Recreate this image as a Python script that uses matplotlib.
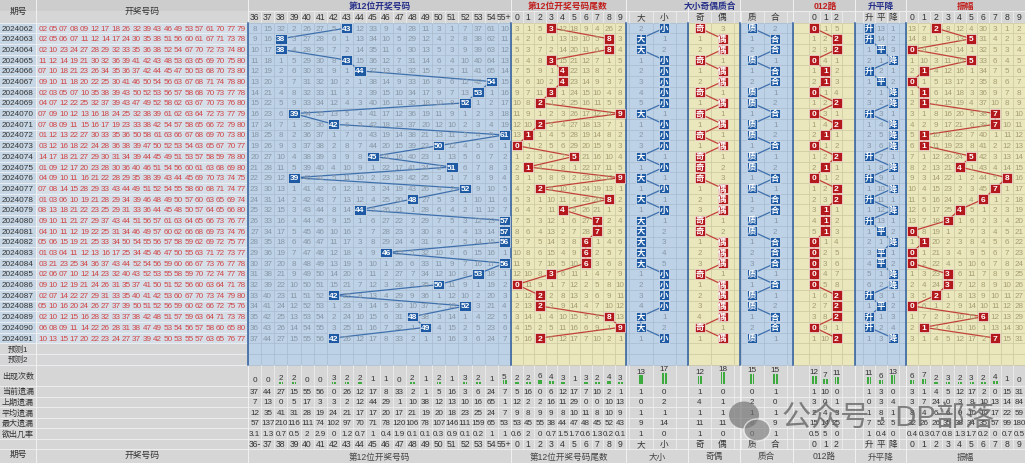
import matplotlib
matplotlib.use('Agg')
import matplotlib.pyplot as plt
from matplotlib.patches import Rectangle, Ellipse

plt.rcParams['font.family'] = ['Liberation Sans', 'Noto Sans CJK SC']

# ---- data ----
periods = ['2024062', '2024063', '2024064', '2024065', '2024066', '2024067',
           '2024068', '2024069', '2024070', '2024071', '2024072', '2024073',
           '2024074', '2024075', '2024076', '2024077', '2024078', '2024079',
           '2024080', '2024081', '2024082', '2024083', '2024084', '2024085',
           '2024086', '2024087', '2024088', '2024089', '2024090', '2024091']

draws = [
    "02 05 07 08 09 12 17 18 26 32 39 43 46 49 53 57 61 70 77 79",
    "02 05 06 07 11 12 14 17 24 30 35 38 51 56 60 61 67 71 73 78",
    "02 10 23 24 27 28 29 32 33 35 36 38 52 54 67 70 72 73 74 80",
    "11 12 14 19 21 30 32 36 39 41 42 43 48 53 63 65 69 70 75 80",
    "07 10 18 21 23 26 34 35 36 37 42 44 45 47 50 53 68 70 73 80",
    "09 10 11 18 20 22 25 30 41 46 50 54 56 63 67 68 71 74 78 80",
    "02 03 05 07 10 35 38 39 43 50 52 53 56 57 58 68 70 73 77 78",
    "04 07 12 22 25 32 37 39 43 47 49 52 58 62 63 67 70 73 76 80",
    "07 09 10 12 13 16 18 24 25 32 38 39 61 62 63 64 72 73 77 79",
    "07 08 09 11 15 16 17 19 23 33 38 42 54 57 58 65 66 72 79 80",
    "01 12 13 22 27 30 33 35 36 50 58 61 63 66 67 68 69 70 73 80",
    "03 12 16 18 22 24 28 36 38 39 47 50 52 53 54 63 65 67 70 77",
    "14 17 18 21 27 29 30 31 34 39 44 45 49 51 53 57 58 59 78 80",
    "01 09 12 17 20 23 28 30 36 40 46 51 54 56 60 61 63 68 69 80",
    "04 09 10 11 16 21 22 28 29 35 38 39 43 44 45 69 70 73 74 75",
    "07 08 14 15 28 29 33 43 44 49 51 52 54 55 58 60 68 71 74 77",
    "01 03 06 10 19 21 28 29 34 39 46 48 49 50 57 60 63 65 69 74",
    "08 13 18 21 22 23 25 29 31 33 36 44 45 48 50 57 64 65 66 80",
    "09 10 11 21 27 29 37 43 44 51 56 57 61 63 64 65 66 73 76 77",
    "04 10 11 12 19 22 25 31 34 46 49 57 60 62 66 68 69 73 74 76",
    "05 06 15 19 21 25 33 34 50 54 55 56 57 58 59 62 69 72 75 77",
    "01 03 04 11 12 13 16 17 25 34 45 46 47 50 55 63 71 72 73 77",
    "03 21 23 25 34 36 37 43 44 52 54 56 59 60 66 67 73 76 77 78",
    "02 06 07 10 12 14 23 32 40 43 52 53 55 58 59 70 72 74 77 78",
    "09 10 12 19 21 24 26 31 35 37 41 50 51 52 56 60 63 64 71 78",
    "02 07 14 22 27 29 31 33 35 40 41 42 53 60 67 70 73 74 79 80",
    "05 10 16 20 24 26 27 37 39 50 51 52 56 59 60 62 66 72 75 76",
    "02 10 12 15 16 28 32 33 37 38 42 48 51 57 59 63 64 71 73 78",
    "06 08 09 11 14 22 26 28 31 38 47 49 53 54 56 57 58 60 65 80",
    "10 13 15 17 20 22 23 24 27 37 39 42 50 53 55 57 63 65 76 77",
]

# 12th number of every draw
pos12 = [43, 38, 38, 43, 44, 54, 53, 52, 39, 42, 61, 50, 45, 51, 39,
         52, 48, 44, 57, 57, 56, 46, 56, 53, 50, 42, 52, 48, 49, 42]

# omission values shown on the first row (2024062)
first_pos = [8, 15, 32, 2, 26, 27, 5, 0, 12, 33, 9, 4, 28, 11, 3, 1, 7, 37, 61, 10]
first_tail = [3, 1, 5, 0, 12, 18, 9, 4, 26, 2]
first_dx = [2, 0]
first_jo = [0, 3]
first_zh = [0, 2]
first_012 = [0, 1, 5]
first_spj = [0, 13, 1]
first_amp = [13, 7, 0, 8, 12, 4, 30, 3, 1, 2]
first_amp_value = 2

pos_labels = ['36', '37', '38', '39', '40', '41', '42', '43', '44', '45', '46',
              '47', '48', '49', '50', '51', '52', '53', '54', '55+']
pos_labels_bot = ['36-'] + pos_labels[1:]
digits = ['0', '1', '2', '3', '4', '5', '6', '7', '8', '9']

# stats: count, current, last, average, max, probability
stats_pos = [[0, 0, 2, 2, 0, 0, 3, 2, 2, 1, 1, 0, 2, 1, 2, 1, 3, 2, 1, 5],
             [37, 44, 27, 15, 55, 56, 0, 26, 12, 17, 8, 33, 2, 1, 5, 16, 3, 6, 24, 7],
             [7, 13, 0, 5, 17, 3, 3, 2, 12, 44, 29, 1, 10, 38, 12, 13, 10, 16, 65, 1],
             [12, 35, 41, 31, 28, 19, 24, 21, 17, 17, 20, 17, 21, 19, 20, 18, 23, 25, 24, 7],
             [57, 137, 210, 116, 111, 74, 102, 97, 70, 71, 78, 120, 106, 78, 107, 146, 111, 159, 65, 53],
             ['3.1', '1.3', '0.7', '0.5', '2', '2.9', '0', '1.2', '0.7', '1', '0.4',
              '1.9', '0.1', '0.1', '0.3', '0.9', '0.1', '0.2', '1', '1']]
stats_tail = [[2, 2, 6, 4, 3, 1, 3, 2, 4, 3],
              [5, 16, 0, 6, 12, 17, 7, 10, 2, 1],
              [12, 2, 2, 16, 11, 29, 0, 0, 10, 13],
              [9, 8, 9, 9, 8, 10, 11, 8, 10, 9],
              [53, 45, 55, 38, 44, 47, 48, 45, 52, 43],
              ['0.6', '2', '0', '0.7', '1.5', '1.7', '0.6', '1.3', '0.2', '0.1']]
stats_dx = [[13, 17], [1, 0], [0, 2], [1, 1], [9, 14], ['1', '0']]
stats_jo = [[12, 18], [1, 0], [4, 1], [1, 1], [11, 11], ['1', '0']]
stats_zh = [[15, 15], [0, 1], [2, 0], [1, 1], [8, 9], ['0', '1']]
stats_012 = [[12, 7, 11], [1, 10, 0], [3, 0, 1], [2, 4, 3], [15, 14, 25], ['0.5', '5', '0']]
stats_spj = [[11, 6, 13], [1, 3, 0], [0, 3, 4], [1, 8, 1], [7, 52, 5], ['1', '0.4', '0']]
stats_amp = [[6, 7, 2, 3, 2, 3, 2, 4, 1, 0],
             [3, 1, 4, 5, 12, 17, 2, 0, 15, 31],
             [3, 7, 24, 0, 3, 8, 10, 13, 14, 84],
             [8, 4, 6, 6, 9, 10, 10, 17, 22, 59],
             [32, 26, 26, 35, 38, 34, 35, 57, 99, 180],
             ['0.4', '0.3', '0.7', '0.8', '1.3', '1.7', '0.2', '0', '0.7', '0.5']]
stat_names = ['出现次数', '当前遗漏', '上期遗漏', '平均遗漏', '最大遗漏', '欲出几率']

# ---- derived hits ----
tails = [n % 10 for n in pos12]
hit_pos = [0 if n <= 36 else (19 if n >= 55 else n - 36) for n in pos12]
hit_dx = [0 if t >= 5 else 1 for t in tails]
hit_jo = [0 if t % 2 else 1 for t in tails]
hit_zh = [0 if t in (1, 2, 3, 5, 7) else 1 for t in tails]
hit_012 = [t % 3 for t in tails]
hit_spj = [0]
amps = [first_amp_value]
for i in range(1, len(tails)):
    d = tails[i] - tails[i - 1]
    hit_spj.append(0 if d > 0 else (1 if d == 0 else 2))
    amps.append(abs(d))


def omissions(first, hits):
    out = [list(first)]
    for h in hits[1:]:
        prev = out[-1]
        out.append([0 if c == h else prev[c] + 1 for c in range(len(first))])
    return out


# ---- layout (pixels) ----
W, H = 1025, 464
HEAD1, HEAD2 = 12.0, 23.7
RH = 10.69
NDATA = len(periods)
DATA_BOT = HEAD2 + NDATA * RH
PRED_BOT = DATA_BOT + 2 * RH
CNT_BOT = 387.0
SRH = 10.5
STAT_BOT = CNT_BOT + 5 * SRH
LAB_BOT = STAT_BOT + 10.5

BLUE_BG, YEL_BG = '#bdd2e6', '#ebe7bd'
BLUE_HIT, RED_HIT = '#1d5aa3', '#b3191c'
BLUE_LN, RED_LN = '#3f70ad', '#c2423a'
BLUE_TXT, YEL_TXT = '#8796a6', '#a69d72'
DIV = '#2d5d9e'


def edges_even(x0, w, n):
    return [x0 + w * k for k in range(n + 1)]


sections = [
    dict(title='第12位开奖号码', tcolor='#27318a', bot='第12位开奖号码', span=(248, 511),
         edges=edges_even(248, 263 / 20, 20), bg=BLUE_BG, kind='b',
         first=first_pos, hits=hit_pos, lab=[str(n) for n in pos12],
         top=pos_labels, bottom=pos_labels_bot, stats=stats_pos, bw=11.5),
    dict(title='第12位开奖号码尾数', tcolor='#c0201e', bot='第12位开奖号码尾数', span=(511, 626),
         edges=edges_even(511, 11.5, 10), bg=YEL_BG, kind='r',
         first=first_tail, hits=tails, lab=[str(t) for t in tails],
         top=digits, bottom=digits, stats=stats_tail, bw=10),
    dict(title='大小奇偶质合', tcolor='#27318a', bot='大小', span=(626, 688), edges=[629, 652.5, 676],
         bg=BLUE_BG, kind='b',
         first=first_dx, hits=hit_dx, lab=[['大', '小'][h] for h in hit_dx],
         top=['大', '小'], bottom=['大', '小'], stats=stats_dx, bw=10),
    dict(title=None, bot='奇偶', span=(688, 740), edges=[688, 711, 734], bg=YEL_BG, kind='r',
         first=first_jo, hits=hit_jo, lab=[['奇', '偶'][h] for h in hit_jo],
         top=['奇', '偶'], bottom=['奇', '偶'], stats=stats_jo, bw=10),
    dict(title=None, bot='质合', span=(740, 793), edges=[740.5, 763.5, 787], bg=BLUE_BG, kind='b',
         first=first_zh, hits=hit_zh, lab=[['质', '合'][h] for h in hit_zh],
         top=['质', '合'], bottom=['质', '合'], stats=stats_zh, bw=10),
    dict(title='012路', tcolor='#c0201e', bot='012路', span=(793, 855),
         edges=[808.5, 819.7, 830.9, 842.1], bg=YEL_BG, kind='r',
         first=first_012, hits=hit_012, lab=[str(h) for h in hit_012],
         top=['0', '1', '2'], bottom=['0', '1', '2'], stats=stats_012, bw=10),
    dict(title='升平降', tcolor='#27318a', bot='升平降', span=(855, 906),
         edges=[863, 875, 887, 899], bg=BLUE_BG, kind='b',
         first=first_spj, hits=hit_spj, lab=[['升', '平', '降'][h] for h in hit_spj],
         top=['升', '平', '降'], bottom=['升', '平', '降'], stats=stats_spj, bw=10),
    dict(title='振幅', tcolor='#c0201e', bot='振幅', span=(906, 1025),
         edges=edges_even(906, 11.9, 10), bg=YEL_BG, kind='r',
         first=first_amp, hits=amps, lab=[str(a) for a in amps],
         top=digits, bottom=digits, stats=stats_amp, bw=10),
]
title_x = [380, 568, 710, 825, 881, 966]

fig = plt.figure(figsize=(W / 100, H / 100), dpi=100)
ax = fig.add_axes([0, 0, 1, 1])
ax.set_xlim(0, W)
ax.set_ylim(H, 0)
ax.axis('off')


def rect(x0, y0, x1, y1, fc, z=0, **kw):
    ax.add_patch(Rectangle((x0, y0), x1 - x0, y1 - y0, facecolor=fc, edgecolor='none', zorder=z, **kw))


def txt(x, y, s, size=5.8, color='#333333', z=5, **kw):
    ax.text(x, y, s, fontsize=size, color=color, ha='center', va='center', zorder=z, **kw)


# backgrounds
rect(0, 0, W, H, '#d6d6d6')
rect(0, 0, W, HEAD1, '#cdcdcd')
rect(0, HEAD2, 36, DATA_BOT, '#c7d6e4')
rect(36, HEAD2, 248, DATA_BOT, '#d6dee8')
for s in sections:
    rect(s['span'][0], HEAD2, s['span'][1], PRED_BOT, s['bg'])

# horizontal grid
for i in range(NDATA + 3):
    y = HEAD2 + i * RH
    ax.plot([0, 248], [y, y], color='#eef2f6', lw=0.6, zorder=1)
    for s in sections:
        ax.plot(s['span'], [y, y], color='#a9bccf' if s['kind'] == 'b' else '#cbc69f', lw=0.5, zorder=1)
for y in [HEAD1, CNT_BOT] + [CNT_BOT + k * SRH for k in range(1, 6)] + [LAB_BOT]:
    x0 = 248 if y == HEAD1 else 0
    ax.plot([x0, W], [y, y], color='#f1f1f1', lw=0.6, zorder=1)

# vertical grid
for x in [36, 248]:
    ax.plot([x, x], [0, H], color='#f1f1f1', lw=0.7, zorder=1)
for s in sections:
    xs = sorted(set(s['edges'] + list(s['span'])))
    for x in xs:
        ax.plot([x, x], [HEAD1, HEAD2], color='#f1f1f1', lw=0.5, zorder=1)
        ax.plot([x, x], [HEAD2, PRED_BOT], color='#a9bccf' if s['kind'] == 'b' else '#cbc69f', lw=0.5, zorder=1)
        ax.plot([x, x], [PRED_BOT, LAB_BOT], color='#f1f1f1', lw=0.5, zorder=1)
for x in [248, 511, 626, 688, 740, 793, 855, 906]:
    ax.plot([x, x], [HEAD2, PRED_BOT], color=DIV, lw=1.1, zorder=2)
    ax.plot([x, x], [0, HEAD2], color='#f1f1f1', lw=0.7, zorder=1)
    ax.plot([x, x], [PRED_BOT, H], color='#f1f1f1', lw=0.7, zorder=1)

# header texts
txt(18, HEAD2 / 2, '期号', size=6.3)
txt(142, HEAD2 / 2, '开奖号码', size=6.3)
txt(18, (LAB_BOT + H) / 2 - 3, '期号', size=6.3)
txt(142, (LAB_BOT + H) / 2 - 2, '开奖号码', size=6.3)

# left column rows
for i, p in enumerate(periods):
    yc = HEAD2 + (i + 0.5) * RH
    txt(18, yc, p, size=5.9, color='#333333')
    for k, num in enumerate(draws[i].split()):
        txt(37.5 + 10.45 * (k + 0.5), yc, num, size=5.9, color='#d04646')
for k, name in enumerate(['预测1', '预测2']):
    rect(0, DATA_BOT + k * RH, 248, DATA_BOT + (k + 1) * RH, '#d6d6d6', z=0.5)
    txt(18, DATA_BOT + (k + 0.5) * RH, name, size=5.8)
txt(18, (PRED_BOT + CNT_BOT) / 2, stat_names[0], size=5.8)
for k, name in enumerate(stat_names[1:]):
    txt(18, CNT_BOT + (k + 0.5) * SRH, name, size=5.8)

# sections
ti = 0
for s in sections:
    e = s['edges']
    cx = [(e[k] + e[k + 1]) / 2 for k in range(len(e) - 1)]
    if s['title']:
        txt(title_x[ti], HEAD1 / 2 + 0.5, s['title'], size=6.3, color=s['tcolor'], fontweight='bold')
        ti += 1
    for k, lab in enumerate(s['top']):
        txt(cx[k], (HEAD1 + HEAD2) / 2, lab, size=6.2)
        txt(cx[k], (STAT_BOT + LAB_BOT) / 2, s['bottom'][k], size=6.2)
    txt((s['span'][0] + s['span'][1]) / 2, (LAB_BOT + H) / 2, s['bot'], size=6.2, color='#444444')

    grid = omissions(s['first'], s['hits'])
    blue = s['kind'] == 'b'
    hc = BLUE_HIT if blue else RED_HIT
    lc = BLUE_LN if blue else RED_LN
    tc = BLUE_TXT if blue else YEL_TXT
    px = [cx[h] for h in s['hits']]
    py = [HEAD2 + (i + 0.5) * RH for i in range(NDATA)]
    ax.plot(px, py, color=lc, lw=0.9, zorder=3)
    for i, row in enumerate(grid):
        for c, v in enumerate(row):
            if c == s['hits'][i]:
                bw = s['bw']
                ax.add_patch(Rectangle((cx[c] - bw / 2, py[i] - 4.8), bw, 9.6, facecolor=hc,
                                       edgecolor='white', lw=0.4, zorder=4))
                txt(cx[c], py[i], s['lab'][i], size=6.0, color='white', z=6, fontweight='bold')
            else:
                txt(cx[c], py[i], str(v), size=5.8, color=tc)

    # statistics
    st = s['stats']
    for k in range(len(cx)):
        cnt = st[0][k]
        bh = 0.62 * cnt
        base = CNT_BOT - 2.5
        if cnt > 1:
            for dxb in (-1.9, 0.7):
                rect(cx[k] + dxb, base - bh, cx[k] + dxb + 1.7, base, '#3caa3c', z=3)
        ax.text(cx[k], base - bh - 0.8, str(cnt), fontsize=5.9, color='#333333',
                ha='center', va='bottom', zorder=5)
        for r in range(1, 6):
            txt(cx[k], CNT_BOT + (r - 0.5) * SRH, str(st[r][k]), size=5.8)

# watermark
ax.add_patch(Ellipse((744, 416), 30, 27, facecolor='#6e6e6e', alpha=0.65, edgecolor='none', zorder=8))
ax.add_patch(Ellipse((757, 431), 26, 22, facecolor='#808080', alpha=0.65, edgecolor='white', lw=1.0, zorder=8))
ax.text(782, 419, '公众号 · DP部落', fontsize=21, color='#666666', alpha=0.8,
        ha='left', va='center', zorder=9)

fig.savefig('out.png', dpi=100)
